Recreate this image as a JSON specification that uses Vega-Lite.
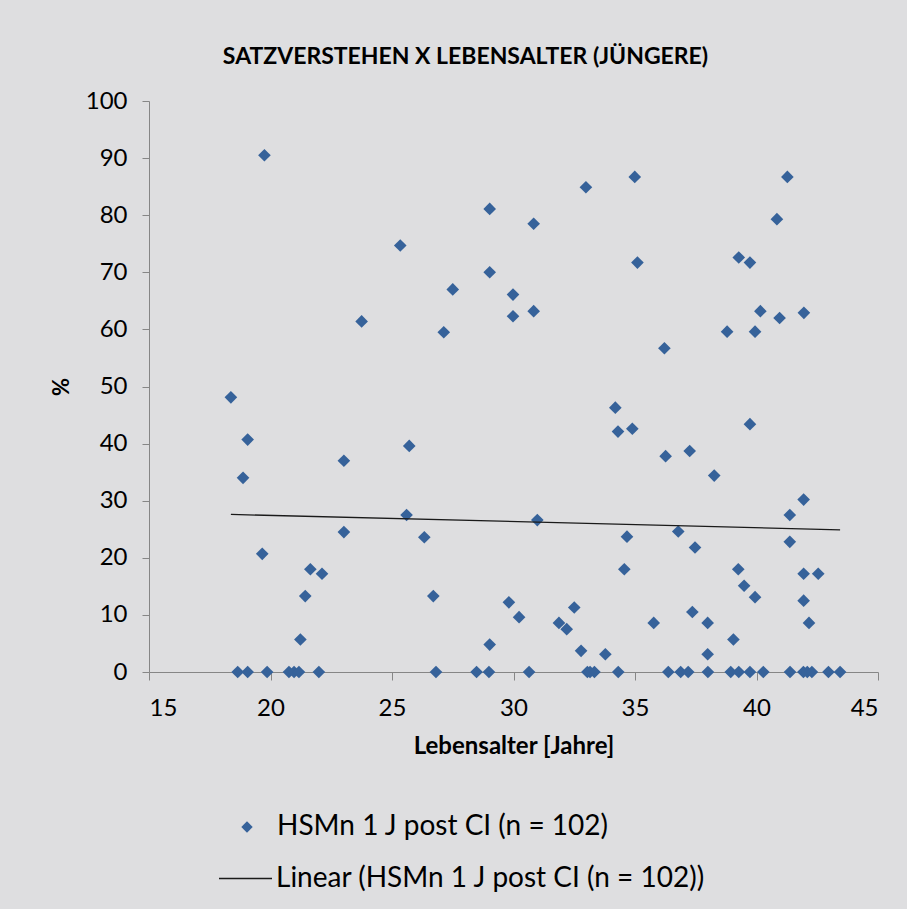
{
  "$schema": "https://vega.github.io/schema/vega-lite/v6.json",
  "width": 729,
  "height": 571,
  "autosize": {"type": "none"},
  "padding": {"left": 149, "top": 101, "right": 29, "bottom": 237},
  "background": "#dedee0",
  "config": {
    "view": {"stroke": null},
    "axis": {
      "grid": false,
      "domainColor": "#868686",
      "tickColor": "#868686",
      "tickSize": 8,
      "labelFont": "Lato",
      "labelFontSize": 24,
      "labelColor": "#000000",
      "titleFont": "Lato",
      "titleFontWeight": "bold",
      "titleColor": "#000000"
    },
    "legend": {
      "labelFont": "Lato",
      "labelFontSize": 28,
      "labelColor": "#000000",
      "labelLimit": 0,
      "padding": 0
    }
  },
  "title": {
    "text": "SATZVERSTEHEN X LEBENSALTER (JÜNGERE)",
    "font": "Lato",
    "fontSize": 23,
    "fontWeight": "bold",
    "color": "#000000",
    "frame": "group",
    "anchor": "middle",
    "baseline": "bottom",
    "offset": -3,
    "dx": -48
  },
  "layer": [
    {
      "data": {
        "values": [
          {"age": 18.65, "pct": 0}, {"age": 19.06, "pct": 0}, {"age": 19.86, "pct": 0}, {"age": 20.76, "pct": 0},
          {"age": 20.97, "pct": 0}, {"age": 21.17, "pct": 0}, {"age": 21.99, "pct": 0}, {"age": 26.81, "pct": 0},
          {"age": 28.48, "pct": 0}, {"age": 28.99, "pct": 0}, {"age": 30.64, "pct": 0}, {"age": 33.04, "pct": 0},
          {"age": 33.15, "pct": 0}, {"age": 33.33, "pct": 0}, {"age": 34.31, "pct": 0}, {"age": 36.37, "pct": 0},
          {"age": 36.88, "pct": 0}, {"age": 37.19, "pct": 0}, {"age": 38.0, "pct": 0}, {"age": 38.94, "pct": 0},
          {"age": 39.27, "pct": 0}, {"age": 39.73, "pct": 0}, {"age": 40.28, "pct": 0}, {"age": 41.38, "pct": 0},
          {"age": 41.93, "pct": 0}, {"age": 42.09, "pct": 0}, {"age": 42.28, "pct": 0}, {"age": 42.96, "pct": 0},
          {"age": 43.44, "pct": 0},
          {"age": 18.37, "pct": 48.1}, {"age": 19.06, "pct": 40.7}, {"age": 18.87, "pct": 34.0}, {"age": 19.66, "pct": 20.7},
          {"age": 23.02, "pct": 37.0}, {"age": 25.71, "pct": 39.6}, {"age": 25.6, "pct": 27.5}, {"age": 23.02, "pct": 24.5},
          {"age": 26.33, "pct": 23.6}, {"age": 21.64, "pct": 18.0}, {"age": 22.12, "pct": 17.2}, {"age": 21.43, "pct": 13.3},
          {"age": 26.7, "pct": 13.3}, {"age": 21.23, "pct": 5.7}, {"age": 29.81, "pct": 12.2}, {"age": 30.23, "pct": 9.6},
          {"age": 29.02, "pct": 4.8},
          {"age": 34.19, "pct": 46.3}, {"age": 34.3, "pct": 42.1}, {"age": 34.89, "pct": 42.6}, {"age": 36.26, "pct": 37.8},
          {"age": 37.25, "pct": 38.7}, {"age": 38.26, "pct": 34.4}, {"age": 39.73, "pct": 43.4}, {"age": 30.98, "pct": 26.6},
          {"age": 34.67, "pct": 23.7}, {"age": 36.78, "pct": 24.6}, {"age": 37.47, "pct": 21.8}, {"age": 41.37, "pct": 27.5},
          {"age": 41.94, "pct": 30.2}, {"age": 41.37, "pct": 22.8}, {"age": 34.56, "pct": 18.0}, {"age": 39.25, "pct": 18.0},
          {"age": 39.49, "pct": 15.1}, {"age": 39.94, "pct": 13.1}, {"age": 41.94, "pct": 17.2}, {"age": 42.54, "pct": 17.2},
          {"age": 41.94, "pct": 12.5}, {"age": 42.16, "pct": 8.6}, {"age": 31.87, "pct": 8.6}, {"age": 32.19, "pct": 7.5},
          {"age": 32.5, "pct": 11.3}, {"age": 32.78, "pct": 3.7}, {"age": 33.78, "pct": 3.1}, {"age": 35.77, "pct": 8.6},
          {"age": 37.36, "pct": 10.5}, {"age": 37.99, "pct": 8.6}, {"age": 39.05, "pct": 5.7}, {"age": 37.99, "pct": 3.1},
          {"age": 19.75, "pct": 90.5}, {"age": 29.02, "pct": 81.1}, {"age": 25.34, "pct": 74.7}, {"age": 29.02, "pct": 70.0},
          {"age": 27.5, "pct": 67.0}, {"age": 29.98, "pct": 66.1}, {"age": 29.98, "pct": 62.3}, {"age": 23.75, "pct": 61.4},
          {"age": 27.13, "pct": 59.5},
          {"age": 34.99, "pct": 86.7}, {"age": 41.27, "pct": 86.7}, {"age": 32.98, "pct": 84.9}, {"age": 30.83, "pct": 78.5},
          {"age": 40.84, "pct": 79.3}, {"age": 35.1, "pct": 71.7}, {"age": 39.27, "pct": 72.6}, {"age": 39.73, "pct": 71.7},
          {"age": 30.83, "pct": 63.2}, {"age": 40.16, "pct": 63.2}, {"age": 40.95, "pct": 62.0}, {"age": 41.95, "pct": 62.9},
          {"age": 38.79, "pct": 59.6}, {"age": 39.94, "pct": 59.6}, {"age": 36.21, "pct": 56.7}
        ]
      },
      "mark": {"type": "point", "filled": true, "opacity": 1, "size": 160, "color": "#36629a"},
      "encoding": {
        "x": {
          "field": "age", "type": "quantitative",
          "scale": {"domain": [15, 45], "nice": false, "zero": false},
          "axis": {"values": [15, 20, 25, 30, 35, 40, 45], "title": "Lebensalter [Jahre]", "titleFontSize": 24, "labelPadding": 16, "titlePadding": 14}
        },
        "y": {
          "field": "pct", "type": "quantitative",
          "scale": {"domain": [0, 100], "nice": false},
          "axis": {"values": [0, 10, 20, 30, 40, 50, 60, 70, 80, 90, 100], "title": "%", "titleFontSize": 22, "labelPadding": 15, "tickSize": 7, "titlePadding": 12}
        },
        "shape": {
          "datum": "HSMn 1 J post CI (n = 102)",
          "scale": {"range": ["diamond"]},
          "legend": {
            "title": null,
            "orient": "none",
            "legendX": 84,
            "legendY": 712,
            "symbolSize": 130,
            "symbolFillColor": "#36629a",
            "symbolOpacity": 1,
            "labelOffset": 16
          }
        }
      }
    },
    {
      "data": {"values": [{"age": 18.37, "pct": 27.6}, {"age": 43.44, "pct": 24.9}]},
      "mark": {"type": "line", "strokeWidth": 1.3},
      "encoding": {
        "x": {"field": "age", "type": "quantitative"},
        "y": {"field": "pct", "type": "quantitative"},
        "color": {
          "datum": "Linear (HSMn 1 J post CI (n = 102))",
          "scale": {"range": ["#1a1a1a"]},
          "legend": {
            "title": null,
            "orient": "none",
            "legendX": 69,
            "legendY": 750,
            "symbolType": "stroke",
            "symbolSize": 2809,
            "symbolStrokeWidth": 1.3,
            "labelOffset": 3
          }
        }
      }
    }
  ]
}
